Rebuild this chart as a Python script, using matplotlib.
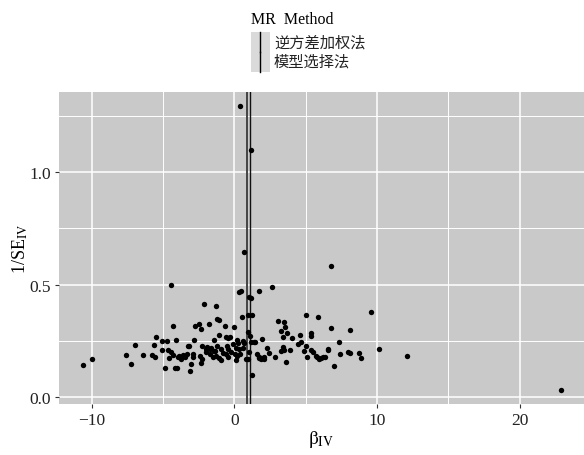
import numpy as np
import matplotlib.pyplot as plt
from matplotlib.patches import Rectangle
from matplotlib.lines import Line2D

plt.rcParams['font.family'] = ['Liberation Serif', 'Noto Sans CJK SC', 'DejaVu Sans']
plt.rcParams['mathtext.fontset'] = 'stix'

# SNP estimates: beta_IV and 1/SE_IV
beta_iv = [
    -10.63, -9.96, -7.62, -7.24, -6.99, -6.42, -5.79, -5.56, -5.63, -5.49,
    -5.05, -4.74, -5.05, -4.67, -4.46, -4.32, -4.60, -4.86, -4.16, -4.42,
    -4.30, -4.09, -3.97, -4.04, -3.86, -3.76, -3.58, -3.46, -3.34, -3.23,
    -3.16, -3.06, -3.10, -2.90, -2.90, -2.80,
    -2.76, -2.45, -2.34, -2.10, -1.31, -1.75, -1.19, -1.09, -0.63, 0.00,
    0.52, 0.35, 0.47, 0.98, 1.26, 0.94, 1.08, -1.09, -0.58, -0.42,
    -0.28, -1.44, 0.17, 0.28, 0.59, 0.66, 1.17, 1.36,
    -2.29, -1.95, -1.73, -1.60, -1.45, -1.24, -0.96, -1.33, -0.50, -0.46,
    0.12, 0.30, 0.60, 1.05, -2.40, -2.24, -1.70, -1.50, -1.30, -1.10,
    -0.60, -0.42, 0.05, 0.17, 0.94, 0.80, -2.34, -0.93, 0.10, 1.26,
    0.70, 0.42, 1.17, 1.03, 1.15, -2.00, -0.20, 0.40, -0.80, -1.90, -0.10,
    1.75, 2.64, 5.03, 5.89, 6.78, 6.76, 3.09, 3.46, 3.56, 3.27,
    3.67, 3.42, 4.02, 4.58, 5.38, 5.38, 1.96, 1.45, 4.49, 4.66,
    5.00, 2.27, 2.43, 3.40, 3.30, 3.50, 3.90, 4.90, 5.38, 5.54,
    6.55, 1.60, 1.75, 1.90, 2.05, 1.70, 1.85, 2.10, 2.85, 3.63,
    5.08, 5.80, 5.95, 6.05, 6.20, 6.36, 7.01, 9.59, 8.14, 7.32,
    10.15, 7.39, 8.00, 8.14, 8.75, 8.88, 12.09, 22.90, 6.59, 5.70,
]
inv_se = [
    0.145, 0.169, 0.188, 0.148, 0.232, 0.188, 0.188, 0.180, 0.232, 0.268,
    0.249, 0.249, 0.210, 0.210, 0.200, 0.189, 0.173, 0.129, 0.129, 0.499,
    0.318, 0.252, 0.178, 0.129, 0.185, 0.170, 0.188, 0.178, 0.192, 0.227,
    0.229, 0.148, 0.117, 0.190, 0.180, 0.255,
    0.316, 0.326, 0.302, 0.416, 0.404, 0.324, 0.348, 0.343, 0.318, 0.311,
    0.356, 0.467, 0.471, 0.363, 0.363, 0.290, 0.270, 0.275, 0.267, 0.262,
    0.267, 0.252, 0.252, 0.241, 0.249, 0.241, 0.247, 0.247,
    0.229, 0.215, 0.212, 0.220, 0.205, 0.229, 0.212, 0.203, 0.229, 0.212,
    0.220, 0.212, 0.220, 0.200, 0.182, 0.170, 0.190, 0.180, 0.182, 0.172,
    0.190, 0.180, 0.190, 0.182, 0.170, 0.168, 0.152, 0.167, 0.163, 0.099,
    0.647, 1.295, 1.100, 0.447, 0.440, 0.200, 0.200, 0.190, 0.195, 0.225, 0.235,
    0.474, 0.489, 0.364, 0.356, 0.308, 0.582, 0.339, 0.333, 0.311, 0.293,
    0.286, 0.268, 0.264, 0.277, 0.286, 0.271, 0.259, 0.247, 0.237, 0.247,
    0.229, 0.219, 0.197, 0.222, 0.203, 0.210, 0.210, 0.203, 0.210, 0.200,
    0.210, 0.190, 0.180, 0.175, 0.170, 0.172, 0.168, 0.178, 0.178, 0.157,
    0.178, 0.180, 0.170, 0.175, 0.178, 0.178, 0.138, 0.379, 0.299, 0.244,
    0.213, 0.192, 0.200, 0.197, 0.197, 0.173, 0.185, 0.034, 0.213, 0.185,
]

# MR estimates (vertical lines)
methods = ['逆方差加权法', '模型选择法']
method_est = [0.88, 1.10]
method_colors = ['#444444', '#111111']
method_widths = [1.4, 1.0]

x_ticks = [-10, 0, 10, 20]
y_ticks = [0.0, 0.5, 1.0]

fig = plt.figure(figsize=(5.84, 4.56), dpi=100)
ax = fig.add_axes([0.101, 0.112, 0.899, 0.685])
ax.set_facecolor('#c9c9c9')

ax.set_xlim(-12.29, 24.52)
ax.set_ylim(-0.030, 1.358)
ax.set_xticks(x_ticks)
ax.set_yticks(y_ticks)
ax.set_xticks([-5, 5, 15], minor=True)
ax.set_yticks([0.25, 0.75, 1.25], minor=True)
ax.set_yticklabels([f'{v:.1f}' for v in y_ticks])
ax.set_xticklabels(['\u221210', '0', '10', '20'])
ax.grid(which='major', color='white', linewidth=1.1)
ax.grid(which='minor', color='white', linewidth=0.7)
ax.set_axisbelow(True)
for s in ax.spines.values():
    s.set_visible(False)
ax.tick_params(which='major', length=3, width=0.8, color='#333333',
               labelsize=12.5, labelcolor='#222222', pad=3)
ax.tick_params(which='minor', length=0)

ax.scatter(beta_iv, inv_se, s=15, color='black', linewidths=0, zorder=3)

for est, c, lw in zip(method_est, method_colors, method_widths):
    ax.axvline(est, color=c, linewidth=lw, zorder=2)

ax.set_xlabel(r'$\mathrm{\beta}_{\mathrm{IV}}$', fontsize=14, labelpad=0)
ax.set_ylabel(r'1/SE$_{\mathrm{IV}}$', fontsize=13, labelpad=-1)

# legend at the top
W, H = 584, 456
fig.text(251 / W, 1 - 20 / H, 'MR  Method', fontsize=11.5, va='center', ha='left')
fig.add_artist(Rectangle((250.5 / W, 1 - 72.5 / H), 19.5 / W, 40 / H,
                         transform=fig.transFigure, facecolor='#dadada',
                         edgecolor='none'))
key_y = [(33, 52.5), (52.5, 72.5)]
label_y = [43.5, 62.5]
for m, c, (y0, y1), ly in zip(methods, method_colors, key_y, label_y):
    fig.add_artist(Line2D([260 / W, 260 / W], [1 - y0 / H, 1 - y1 / H],
                          transform=fig.transFigure, color='black', linewidth=1.0))
    fig.text(274 / W, 1 - ly / H, m, fontsize=11,
             family=['Noto Sans CJK SC', 'DejaVu Sans'], va='center', ha='left',
             color='#222222')

fig.savefig('out.png', dpi=100)
